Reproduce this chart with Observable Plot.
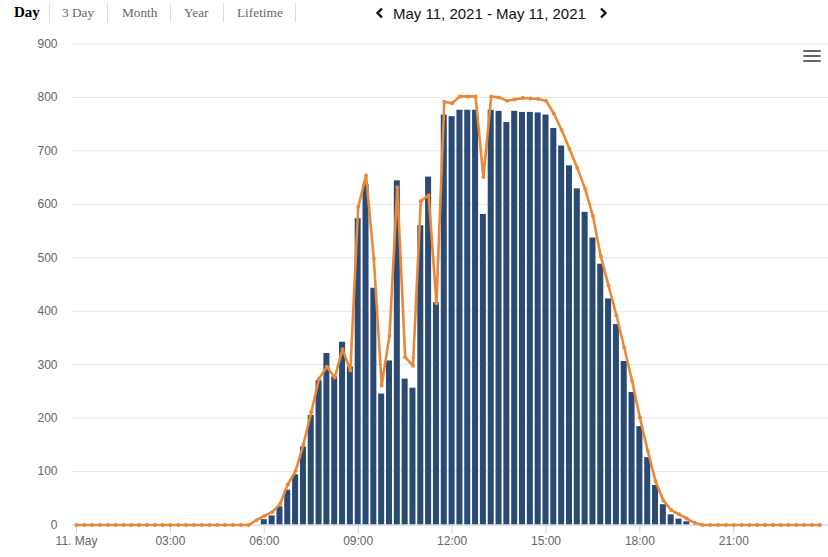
<!DOCTYPE html>
<html>
<head>
<meta charset="utf-8">
<script src="https://cdn.jsdelivr.net/npm/d3@7"></script>
<script src="https://cdn.jsdelivr.net/npm/@observablehq/plot@0.6"></script>
<style>
  html, body { margin: 0; padding: 0; background: #fff; }
  #page { position: relative; width: 828px; height: 557px; overflow: hidden; }
  #nav { position: relative; height: 30px; }
  .nav-item { position: absolute; top: 6px; line-height: 13px; font-family: "Liberation Serif", "Times New Roman", serif; font-size: 13.3px; color: #666; white-space: nowrap; }
  .nav-item.active { font-weight: bold; color: #000; font-size: 15px; line-height: 15px; top: 5px; }
  .sep { position: absolute; top: 3px; width: 1px; height: 19px; background: #ddd; }
  #date { position: absolute; left: 393px; top: 5.6px; line-height: 15px; font-family: "Liberation Sans", Arial, sans-serif; font-size: 15px; color: #111; white-space: nowrap; }
  .chev { position: absolute; top: 7px; }
  #menu { position: absolute; left: 803px; top: 49.5px; width: 18px; z-index: 5; }
  #menu div { height: 2px; background: #666; margin-bottom: 3px; border-radius: 1px; }
  #chart { position: absolute; left: 0; top: 30px; }
</style>
</head>
<body>
<div id="page">
  <div id="nav">
    <span class="nav-item active" style="left:14px">Day</span>
    <span class="sep" style="left:49px"></span>
    <span class="nav-item" style="left:62px">3 Day</span>
    <span class="sep" style="left:107px"></span>
    <span class="nav-item" style="left:122px">Month</span>
    <span class="sep" style="left:170px"></span>
    <span class="nav-item" style="left:184px">Year</span>
    <span class="sep" style="left:223px"></span>
    <span class="nav-item" style="left:237px">Lifetime</span>
    <span class="sep" style="left:295px"></span>
    <svg class="chev" style="left:375px" width="10" height="12" viewBox="0 0 10 12"><polyline points="7,1.5 2.5,6 7,10.5" fill="none" stroke="#111" stroke-width="2.4"/></svg>
    <span id="date">May 11, 2021 - May 11, 2021</span>
    <svg class="chev" style="left:598px" width="10" height="12" viewBox="0 0 10 12"><polyline points="3,1.5 7.5,6 3,10.5" fill="none" stroke="#111" stroke-width="2.4"/></svg>
  </div>
  <div id="chart"></div>
  <div id="menu"><div></div><div></div><div></div></div>
</div>
<script>
// 15-minute slots of 11 May 2021 (hours from midnight)
const slots = d3.range(96).map(i => i / 4);

// Column series (energy per 15 min), one value per slot
const barValues = [
  0,0,0,0,0,0,0,0,0,0,0,0,0,0,0,0,0,0,0,0,0,0,0,0,
  10,17,34,65,94,146,205,270,321,277,342,296,
  573,637,443,245,307,644,273,256,560,651,416,767,
  764,776,776,776,581,776,774,753,774,772,772,771,
  767,742,709,672,629,585,537,488,423,375,306,248,
  184,126,74,38,19,11,6,0,0,0,0,0,
  0,0,0,0,0,0,0,0,0,0,0,0
];

// Line series (power), one value per slot
const lineValues = [
  0,0,0,0,0,0,0,0,0,0,0,0,0,0,0,0,0,0,0,0,0,0,0,9,
  17,24,39,76,101,151,211,274,296,276,329,289,
  595,654,498,261,354,632,314,298,606,617,415,792,
  789,802,802,802,651,802,800,794,796,799,798,797,
  794,770,739,704,668,629,578,503,448,392,332,270,
  201,139,82,46,28,20,12,4,0,0,0,0,
  0,0,0,0,0,0,0,0,0,0,0,0
];

const yTicks = [0, 100, 200, 300, 400, 500, 600, 700, 800, 900];
const xTickHours = [0, 3, 6, 9, 12, 15, 18, 21];
const xTickLabels = ["11. May", "03:00", "06:00", "09:00", "12:00", "15:00", "18:00", "21:00"];

const bars = slots.map((t, i) => ({t, v: barValues[i]})).filter(d => d.v > 0);
const line = slots.map((t, i) => ({t, v: lineValues[i]}));

const halfBar = 0.096;

const chart = Plot.plot({
  width: 828,
  height: 527,
  marginLeft: 72,
  marginRight: 0,
  marginTop: 13.5,
  marginBottom: 32.5,
  x: {domain: [-0.128, 24.026], label: null},
  y: {domain: [0, 900], label: null},
  style: {fontFamily: "'Liberation Sans', Arial, sans-serif", fontSize: "12px", color: "#666", background: "white", overflow: "visible"},
  marks: [
    Plot.gridY(yTicks, {stroke: "#e6e6e6", strokeOpacity: 1}),
    Plot.axisY(yTicks, {tickSize: 0, tickPadding: 15, fill: "#666", fontSize: 12, label: null}),
    Plot.rectY(bars, {x1: d => d.t - halfBar, x2: d => d.t + halfBar, y: "v", fill: "#2b4a73"}),
    Plot.ruleY([0], {stroke: "#ccd6eb"}),
    Plot.axisX(xTickHours, {tickSize: 9, tickPadding: 2, stroke: "#ccd6eb", fill: "#666", fontSize: 12, label: null,
      tickFormat: d => xTickLabels[xTickHours.indexOf(d)]}),
    Plot.line(line, {x: "t", y: "v", stroke: "#e8893a", strokeWidth: 2.6, strokeLinejoin: "round"}),
    Plot.dot(line, {x: "t", y: "v", r: 2, fill: "#e8893a", stroke: "none"})
  ]
});
document.getElementById("chart").appendChild(chart);
</script>
</body>
</html>
